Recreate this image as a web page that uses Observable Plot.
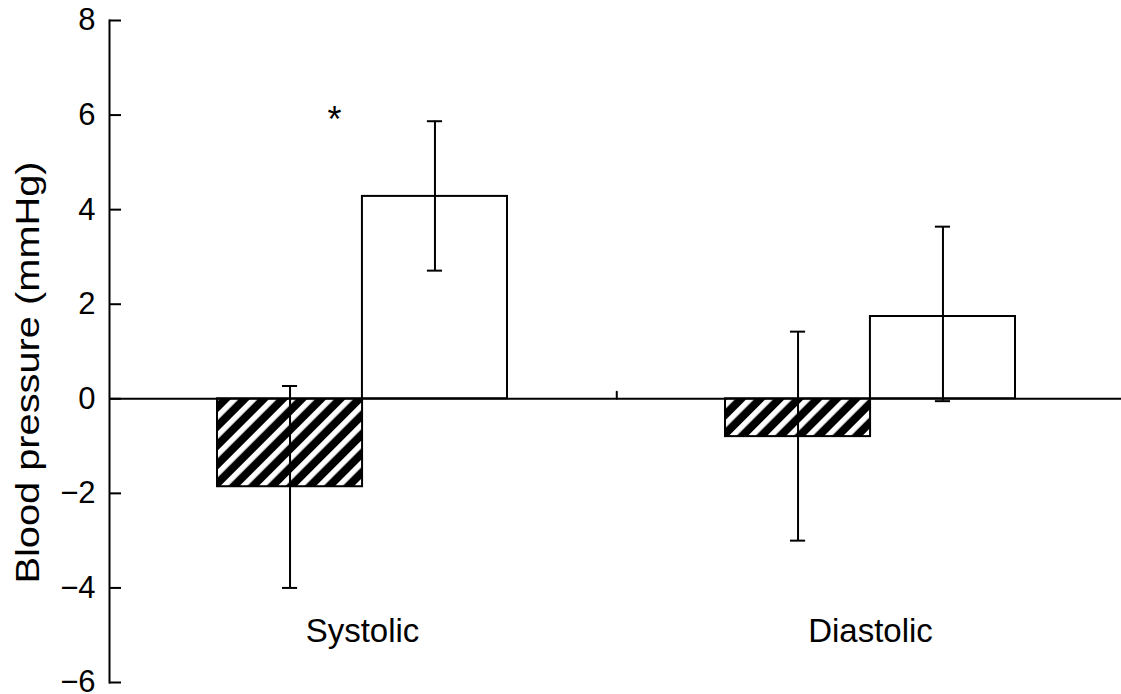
<!DOCTYPE html>
<html>
<head>
<meta charset="utf-8">
<script src="https://cdn.jsdelivr.net/npm/d3@7"></script>
<script src="https://cdn.jsdelivr.net/npm/@observablehq/plot@0.6"></script>
<style>
  html, body { margin: 0; padding: 0; background: #fff; }
</style>
</head>
<body>
<div id="chart"></div>
<script>
// Change in blood pressure (mmHg), mean with error-bar limits
const groups = ["Systolic", "Diastolic"];
const hatchedMean = [-1.86, -0.80];
const hatchedLow = [-4.0, -3.0];
const hatchedHigh = [0.27, 1.42];
const openMean = [4.28, 1.74];
const openLow = [2.71, -0.05];
const openHigh = [5.87, 3.64];
const significance = ["*", ""];
const yTicks = [-6, -4, -2, 0, 2, 4, 6, 8];
const yLabel = "Blood pressure (mmHg)";

const hatched = groups.map((g, i) => ({group: g, mean: hatchedMean[i], lo: hatchedLow[i], hi: hatchedHigh[i]}));
const open = groups.map((g, i) => ({group: g, mean: openMean[i], lo: openLow[i], hi: openHigh[i]}));
const notes = groups.map((g, i) => ({group: g, text: significance[i]}));

const W = 1121, H = 694;
const font = "'Liberation Sans', Arial, Helvetica, sans-serif";
const xOpts = {domain: groups, range: [109, W], paddingInner: 0.43, paddingOuter: 0.21, align: 0.505};

// same band geometry as Plot's x scale, used for splitting each band into two bars
const band = d3.scaleBand(xOpts.domain, xOpts.range)
  .paddingInner(xOpts.paddingInner).paddingOuter(xOpts.paddingOuter).align(xOpts.align);
const bw = band.bandwidth();
const half = bw / 2;
const step = band.step();
const cap = 15;

const stripes = () => {
  const defs = d3.create("svg:defs");
  const p = defs.append("pattern")
    .attr("id", "stripes")
    .attr("patternUnits", "userSpaceOnUse")
    .attr("width", 13.5).attr("height", 13.5)
    .attr("patternTransform", "rotate(45)");
  p.append("rect").attr("width", 13.5).attr("height", 13.5).attr("fill", "#000");
  p.append("rect").attr("width", 5.5).attr("height", 13.5).attr("fill", "#fff");
  return defs.node();
};

const errorMarks = (data, dx, capLeft, capRight) => [
  Plot.ruleX(data, {x: "group", y1: "lo", y2: "hi", dx, stroke: "#000", strokeWidth: 2}),
  Plot.tickY(data, {x: "group", y: "lo", insetLeft: capLeft, insetRight: capRight, stroke: "#000", strokeWidth: 2}),
  Plot.tickY(data, {x: "group", y: "hi", insetLeft: capLeft, insetRight: capRight, stroke: "#000", strokeWidth: 2})
];

const chart = Plot.plot({
  width: W,
  height: H,
  marginLeft: 109,
  marginRight: 0,
  marginTop: 20,
  marginBottom: 12,
  style: {fontFamily: font, fontSize: "33px", color: "#000", background: "#fff"},
  x: {type: "band", ...xOpts, axis: null},
  y: {domain: [-6, 8], axis: null},
  marks: [
    stripes,
    Plot.barY(hatched, {x: "group", y: "mean", fill: "url(#stripes)", stroke: "#000", strokeWidth: 2, insetRight: half}),
    Plot.barY(open, {x: "group", y: "mean", fill: "#fff", stroke: "#000", strokeWidth: 2, insetLeft: half}),
    Plot.ruleY([0], {stroke: "#000", strokeWidth: 2}),
    ...errorMarks(hatched, -half / 2, half / 2 - cap / 2, bw - half / 2 - cap / 2),
    ...errorMarks(open, half / 2, bw - half / 2 - cap / 2, half / 2 - cap / 2),
    // divider tick between the two groups, on the zero line
    Plot.vector([groups[0]], {
      x: (d) => d, y: 0, dx: step / 2, length: 7, anchor: "start", stroke: "#000", strokeWidth: 2,
      shape: {draw(c, l) { c.moveTo(0, 0); c.lineTo(0, -l); }}
    }),
    Plot.text(notes, {x: "group", y: 6, text: "text", dx: -28, dy: 5, fontSize: 36}),
    Plot.frame({anchor: "left", stroke: "#000", strokeWidth: 2}),
    Plot.axisY({
      ticks: yTicks, tickSize: -12, tickPadding: 26, strokeWidth: 2, fontSize: 31, label: null
    }),
    // rotated y-axis title
    Plot.text([yLabel], {
      text: (d) => d, frameAnchor: "left", textAnchor: "middle", rotate: -90, dx: -81, dy: 21,
      fontSize: 34
    }),
    Plot.axisX({anchor: "bottom", tickSize: 0, tickPadding: 0, dy: -64, fontSize: 33, label: null})
  ]
});

// stretch the y-axis title along its length
d3.select(chart).selectAll("text")
  .filter(function () { return this.textContent === yLabel; })
  .attr("transform", function () {
    const t = this.getAttribute("transform");
    return (t ? t + " " : "") + "scale(1.17,1)";
  });

document.getElementById("chart").appendChild(chart);
</script>
</body>
</html>
